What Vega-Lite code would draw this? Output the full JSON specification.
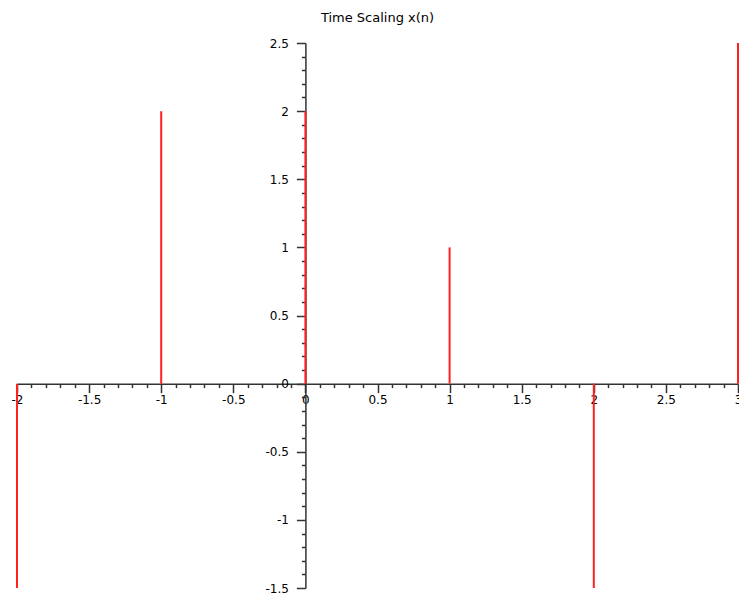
{
  "$schema": "https://vega.github.io/schema/vega-lite/v6.json",
  "autosize": "none",
  "width": 721,
  "height": 545,
  "padding": {"left": 17, "top": 43, "right": 1, "bottom": 9},
  "background": "white",
  "title": {"text": "Time Scaling x(n)", "fontSize": 13, "fontWeight": "normal", "font": "DejaVu Sans", "color": "#000", "anchor": "middle", "offset": 12},
  "config": {"view": {"stroke": null}},
  "data": {"values": [
    {"n": -2, "x": -1.5},
    {"n": -1, "x": 2},
    {"n": 0, "x": 2},
    {"n": 1, "x": 1},
    {"n": 2, "x": -1.5},
    {"n": 3, "x": 2.5}
  ]},
  "mark": {"type": "rule", "color": "#ff2020", "strokeWidth": 2},
  "encoding": {
    "x": {"field": "n", "type": "quantitative", "title": null,
      "scale": {"domain": [-2, 3], "nice": false, "zero": false},
      "axis": {"orient": "bottom", "offset": -204.375, "grid": false, "zindex": 0,
        "values": [-2,-1.9,-1.8,-1.7,-1.6,-1.5,-1.4,-1.3,-1.2,-1.1,-1,-0.9,-0.8,-0.7,-0.6,-0.5,-0.4,-0.3,-0.2,-0.1,0,0.1,0.2,0.3,0.4,0.5,0.6,0.7,0.8,0.9,1,1.1,1.2,1.3,1.4,1.5,1.6,1.7,1.8,1.9,2,2.1,2.2,2.3,2.4,2.5,2.6,2.7,2.8,2.9,3],
        "labelExpr": "abs(datum.value*2 - round(datum.value*2)) < 0.001 ? '' + datum.value : ''",
        "tickSize": {"condition": {"test": "abs(datum.value*2 - round(datum.value*2)) < 0.001", "value": 9}, "value": 4},
        "tickColor": "#333", "domainColor": "#333", "tickWidth": 1.5, "domainWidth": 1.5,
        "labelFont": "DejaVu Sans", "labelFontSize": 12, "labelColor": "#000",
        "labelPadding": 2, "labelFlush": false, "labelOverlap": false, "labelBound": false}},
    "y": {"field": "x", "type": "quantitative", "title": null,
      "scale": {"domain": [-1.5, 2.5], "nice": false, "zero": false},
      "axis": {"orient": "left", "offset": -288.4, "grid": false, "zindex": 0,
        "values": [-1.5,-1.4,-1.3,-1.2,-1.1,-1,-0.9,-0.8,-0.7,-0.6,-0.5,-0.4,-0.3,-0.2,-0.1,0,0.1,0.2,0.3,0.4,0.5,0.6,0.7,0.8,0.9,1,1.1,1.2,1.3,1.4,1.5,1.6,1.7,1.8,1.9,2,2.1,2.2,2.3,2.4,2.5],
        "labelExpr": "abs(datum.value*2 - round(datum.value*2)) < 0.001 ? '' + datum.value : ''",
        "tickSize": {"condition": {"test": "abs(datum.value*2 - round(datum.value*2)) < 0.001", "value": 9}, "value": 4},
        "tickColor": "#333", "domainColor": "#333", "tickWidth": 1.5, "domainWidth": 1.5,
        "labelFont": "DejaVu Sans", "labelFontSize": 12, "labelColor": "#000",
        "labelPadding": 8, "labelFlush": false, "labelOverlap": false, "labelBound": false}},
    "y2": {"datum": 0}
  }
}
